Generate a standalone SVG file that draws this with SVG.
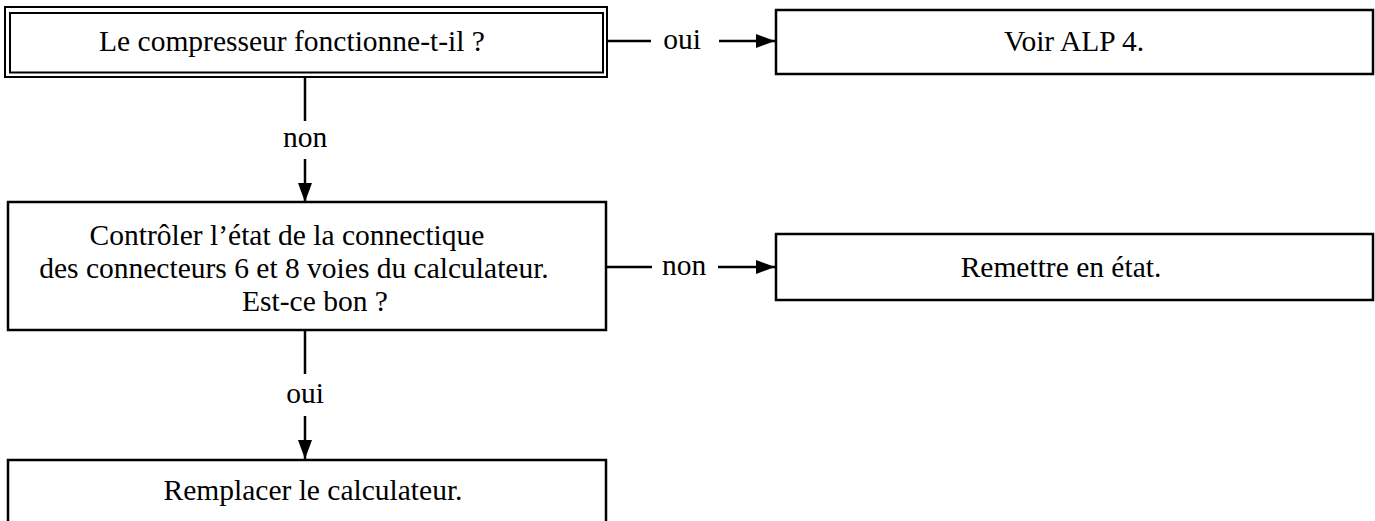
<svg xmlns="http://www.w3.org/2000/svg" width="1375" height="521" viewBox="0 0 1375 521">
<style>
.box{fill:#fff;stroke:#000;stroke-width:2.5}
.thin{fill:none;stroke:#000;stroke-width:2}
.t{font-family:"Liberation Serif",serif;font-size:29.5px;fill:#000;text-anchor:middle}
.c{stroke:#000;stroke-width:2.5;fill:none}
</style>
<defs>
<marker id="a" markerWidth="19" markerHeight="14" refX="19" refY="7" markerUnits="userSpaceOnUse" orient="auto">
<path d="M0,0 L19,7 L0,14 z" fill="#000"/>
</marker>
</defs>
<g id="connectors">
<line class="c" x1="608" y1="41" x2="651" y2="41"/>
<line class="c" x1="719" y1="41" x2="775" y2="41" marker-end="url(#a)"/>
<text class="t" x="682" y="49">oui</text>
<line class="c" x1="305" y1="77" x2="305" y2="121"/>
<line class="c" x1="305" y1="159" x2="305" y2="202" marker-end="url(#a)"/>
<text class="t" x="305" y="147">non</text>
<line class="c" x1="606" y1="267" x2="652" y2="267"/>
<line class="c" x1="718" y1="267" x2="775" y2="267" marker-end="url(#a)"/>
<text class="t" x="684" y="275">non</text>
<line class="c" x1="305" y1="331" x2="305" y2="374"/>
<line class="c" x1="305" y1="416" x2="305" y2="459" marker-end="url(#a)"/>
<text class="t" x="305" y="403">oui</text>
</g>
<g id="n1">
<rect class="thin" x="5" y="7" width="602" height="70"/>
<rect class="thin" x="10" y="13" width="593" height="59.5"/>
<text class="t" x="292" y="51">Le compresseur fonctionne-t-il ?</text>
</g>
<g id="n2">
<rect class="box" x="776" y="10" width="597" height="64"/>
<text class="t" x="1074" y="51">Voir ALP 4.</text>
</g>
<g id="n3">
<rect class="box" x="8" y="202" width="598" height="128"/>
<text class="t" x="287" y="245">Contrôler l’état de la connectique</text>
<text class="t" x="294" y="278">des connecteurs 6 et 8 voies du calculateur.</text>
<text class="t" x="315" y="311">Est-ce bon ?</text>
</g>
<g id="n4">
<rect class="box" x="776" y="234" width="597" height="66"/>
<text class="t" x="1061" y="277">Remettre en état.</text>
</g>
<g id="n5">
<path class="c" d="M8,530 L8,460 L606,460 L606,530"/>
<text class="t" x="313" y="500">Remplacer le calculateur.</text>
</g>
</svg>
